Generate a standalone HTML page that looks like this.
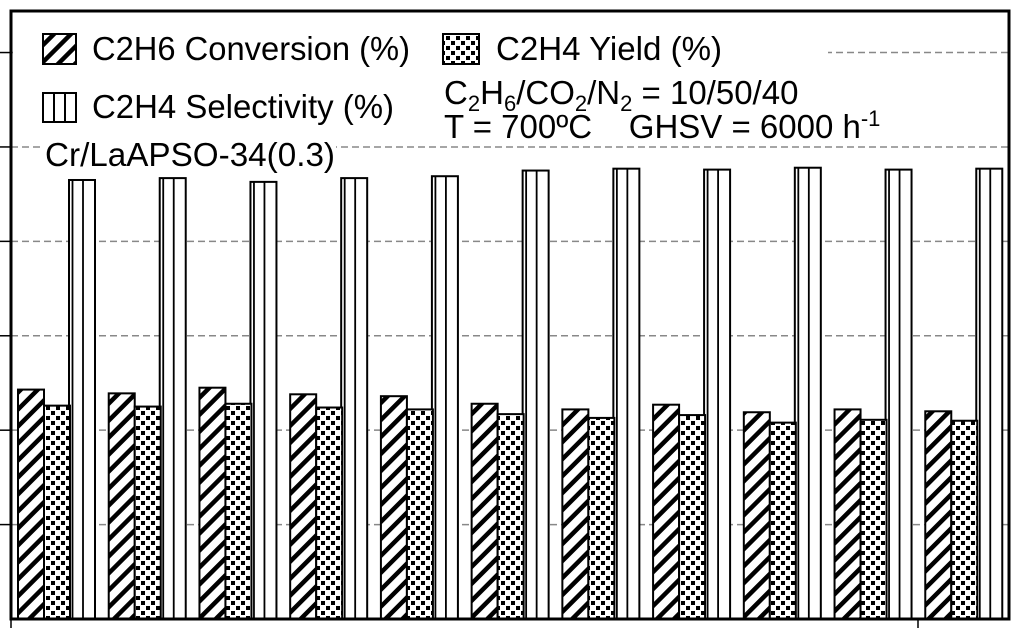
<!DOCTYPE html>
<html><head><meta charset="utf-8"><style>
html,body{margin:0;padding:0;background:#fff;}
svg{display:block;font-family:"Liberation Sans",Arial,sans-serif;}
</style></head><body>
<svg id="chart" width="1024" height="628" viewBox="0 0 1024 628">
<defs>
<pattern id="hatch" patternUnits="userSpaceOnUse" width="12" height="12" patternTransform="rotate(45)">
<rect width="12" height="12" fill="#fff"/><rect x="0" y="0" width="4.5" height="12" fill="#000"/>
</pattern>
<pattern id="dots" patternUnits="userSpaceOnUse" width="10" height="10">
<rect width="10" height="10" fill="#fff"/><rect x="1" y="1" width="4" height="4" fill="#000"/><rect x="6" y="6" width="4" height="4" fill="#000"/>
</pattern>
</defs>
<g id="grid"></g>
<rect x="13" y="18" width="815" height="126" fill="#fff"/>
<rect x="40" y="141" width="296" height="30" fill="#fff"/>
<g id="bars"></g>
<rect x="11" y="11" width="998" height="608" fill="none" stroke="#000" stroke-width="3"/>
<line x1="11" y1="619" x2="11" y2="628" stroke="#000" stroke-width="1.5"/>
<line x1="918" y1="619" x2="918" y2="628" stroke="#000" stroke-width="1.5"/>
<g font-size="33">
<rect x="43" y="34" width="33" height="30" fill="url(#hatch)" stroke="#000" stroke-width="2"/>
<text x="92" y="60" textLength="318" lengthAdjust="spacingAndGlyphs">C2H6 Conversion (%)</text>
<rect x="443" y="34" width="36" height="30" fill="url(#dots)" stroke="#000" stroke-width="2"/>
<text x="496" y="60" textLength="226" lengthAdjust="spacingAndGlyphs">C2H4 Yield (%)</text>
<g>
<rect x="43" y="93" width="33" height="29" fill="#fff" stroke="#000" stroke-width="2"/>
<line x1="54" y1="93" x2="54" y2="122" stroke="#000" stroke-width="2"/>
<line x1="65" y1="93" x2="65" y2="122" stroke="#000" stroke-width="2"/>
</g>
<text x="92" y="118" textLength="302" lengthAdjust="spacingAndGlyphs">C2H4 Selectivity (%)</text>
<text x="444" y="104">C<tspan font-size="22" dy="7">2</tspan><tspan dy="-7">H</tspan><tspan font-size="22" dy="7">6</tspan><tspan dy="-7">/CO</tspan><tspan font-size="22" dy="7">2</tspan><tspan dy="-7">/N</tspan><tspan font-size="22" dy="7">2</tspan><tspan dy="-7"> = 10/50/40</tspan></text>
<text x="444" y="138" xml:space="preserve">T = 700ºC    GHSV = 6000 h<tspan font-size="22" dy="-12">-1</tspan></text>
<text x="45" y="166" textLength="290" lengthAdjust="spacingAndGlyphs">Cr/LaAPSO-34(0.3)</text>
</g>
</svg>
<script>
const categories = [1,2,3,4,5,6,7,8,9,10,11];
const conversion = [24.3, 23.9, 24.5, 23.8, 23.6, 22.8, 22.2, 22.7, 21.9, 22.2, 22.0];
const yieldVals = [22.6, 22.5, 22.8, 22.4, 22.2, 21.7, 21.3, 21.6, 20.8, 21.1, 21.0];
const selectivity = [46.5, 46.7, 46.3, 46.7, 46.9, 47.5, 47.7, 47.6, 47.8, 47.6, 47.7];
const gridTicks = [10, 20, 30, 40, 50, 60];
const NS = "http://www.w3.org/2000/svg";
const X0 = 11, X1 = 1009, Y0 = 619, Y1 = 11, YMAX = 64.4;
function y(v){ return Y0 - (v / YMAX) * (Y0 - Y1); }
function gx(i){ return X0 + i * (X1 - X0) / categories.length; }
function mk(tag, attrs, parent){ const e = document.createElementNS(NS, tag); for (const k in attrs) e.setAttribute(k, attrs[k]); parent.appendChild(e); return e; }
const grid = document.getElementById('grid');
gridTicks.forEach(t => {
  const l = mk('line', {x1: X0, x2: X1, y1: y(t), y2: y(t), stroke: '#888', 'stroke-width': 1.5, 'stroke-dasharray': '7,4'}, grid);
  
  
  const tk = mk('line', {x1: 0, x2: X0, y1: y(t), y2: y(t), stroke: '#000', 'stroke-width': 1.5}, grid);
  
  
});
const bars = document.getElementById('bars');
const BW = 26;
categories.forEach((c, i) => {
  const g0 = gx(i);
  const sx = g0 + 7 + 2 * BW - 1;
  const sg = mk('g', {}, bars);
  
  
  mk('rect', {x: sx, y: y(selectivity[i]), width: BW, height: Y0 - y(selectivity[i]), fill: '#fff', stroke: '#000', 'stroke-width': 2}, sg);
  [3.5, 14].forEach(o => mk('line', {x1: sx + o, x2: sx + o, y1: y(selectivity[i]), y2: Y0, stroke: '#000', 'stroke-width': 1.8}, sg));
  const b1 = mk('rect', {x: g0 + 7, y: y(conversion[i]), width: BW, height: Y0 - y(conversion[i]), fill: 'url(#hatch)', stroke: '#000', 'stroke-width': 2}, bars);
  
  
  const b2 = mk('rect', {x: g0 + 7 + BW, y: y(yieldVals[i]), width: BW, height: Y0 - y(yieldVals[i]), fill: 'url(#dots)', stroke: '#000', 'stroke-width': 2}, bars);
  
  
});
</script>
</body></html>
